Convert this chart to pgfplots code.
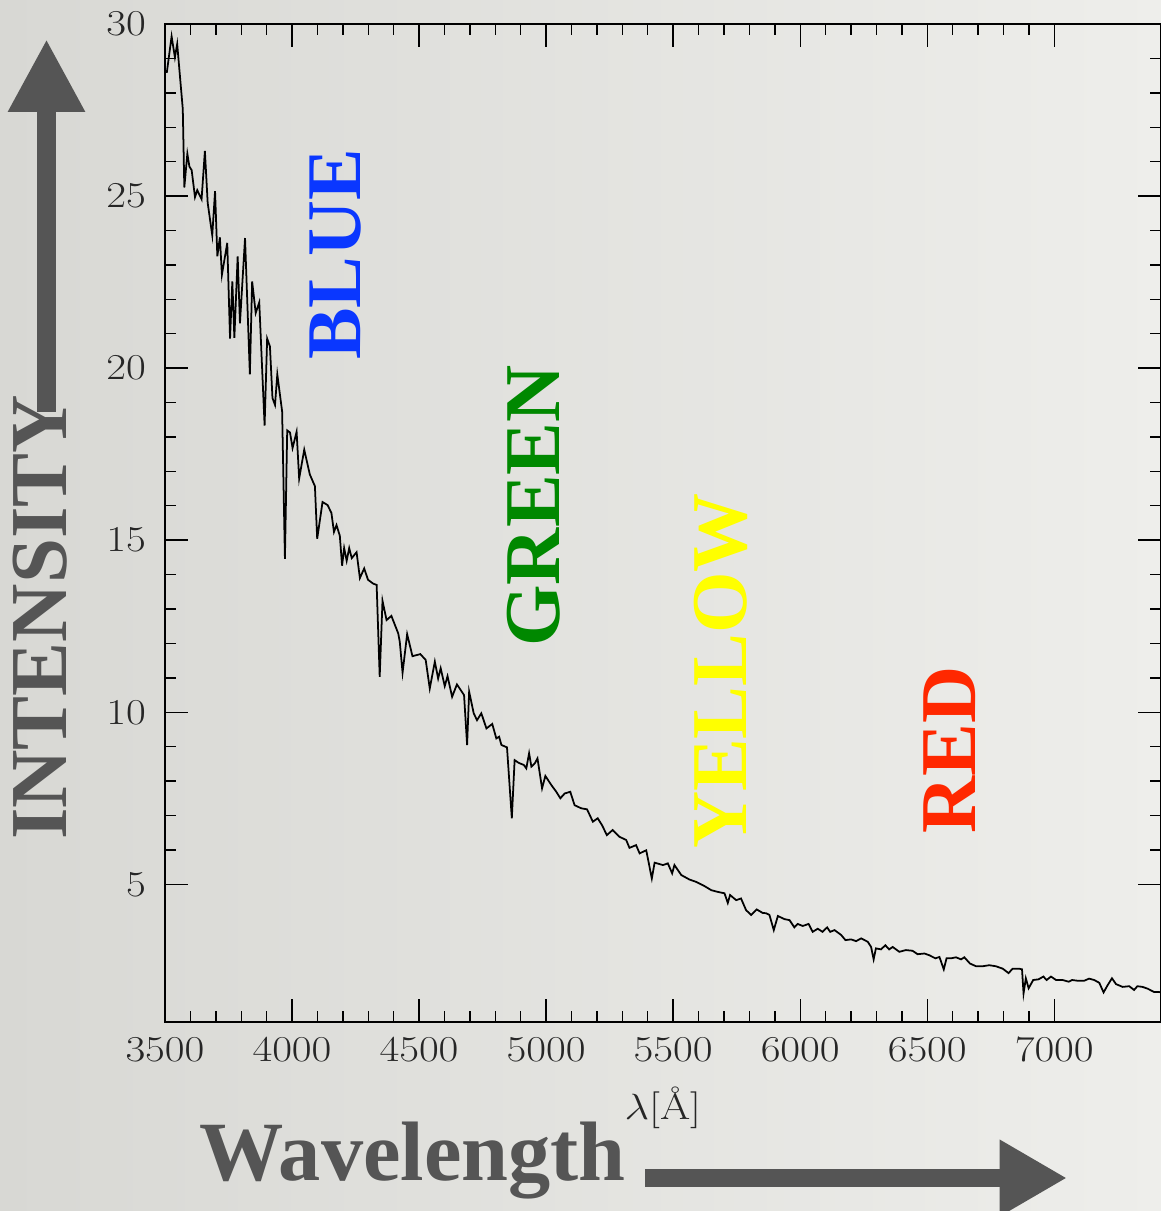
\documentclass[border=0pt]{standalone}
\usepackage{pgfplots}
\pgfplotsset{compat=1.18}
\usepackage{fontspec}
\newfontfamily\labelfont{Liberation Serif}
\usetikzlibrary{arrows.meta}
\definecolor{bgL}{RGB}{216,216,212}
\definecolor{bgR}{RGB}{238,238,235}
\definecolor{arrowgray}{RGB}{85,85,85}
\definecolor{cblue}{RGB}{10,55,255}
\definecolor{cgreen}{RGB}{0,136,0}
\definecolor{cyellow}{RGB}{255,255,0}
\definecolor{cred}{RGB}{255,40,0}
\begin{document}
\begin{tikzpicture}
\useasboundingbox (-3.30,-3.78) rectangle (19.91,20.44);
\shade[left color=bgL, right color=bgR] (-3.30,-3.78) rectangle (19.95,20.44);
\begin{axis}[
  at={(0,0)}, anchor=south west, scale only axis,
  width=19.92cm, height=19.96cm,
  xmin=3500, xmax=7420, ymin=1, ymax=30,
  xtick={3500,4000,...,7000}, ytick={5,10,...,30},
  minor x tick num=4, minor y tick num=4,
  major tick length=0.46cm, minor tick length=0.22cm,
  axis line style={line width=1.1pt},
  every tick/.style={black, line width=0.8pt},
  tick label style={font=\fontsize{21}{25}\selectfont, xscale=1.18, text=black!85},
  yticklabel style={xshift=-0.2cm},
  xticklabel style={yshift=-0.2cm},
  scaled x ticks=false,
  /pgf/number format/1000 sep={},
]
\addplot[black, line width=1pt] table {
x y
3507 28.58
3526 29.64
3539 29.03
3548 29.42
3559 28.47
3570 27.53
3576 25.25
3588 26.23
3596 25.86
3605 25.75
3618 24.97
3627 25.17
3644 24.91
3657 26.31
3668 24.80
3686 23.86
3697 25.14
3706 23.25
3716 23.80
3724 22.71
3745 23.64
3756 20.86
3765 22.52
3773 20.88
3786 23.25
3795 21.30
3815 23.78
3834 19.82
3843 22.52
3857 21.60
3871 21.91
3892 18.33
3902 20.86
3913 20.63
3923 19.13
3933 18.93
3942 19.82
3961 18.74
3972 14.46
3981 18.19
3992 18.13
4002 17.68
4018 18.15
4028 16.79
4048 17.63
4070 16.91
4090 16.57
4099 15.04
4120 16.11
4140 16.02
4155 15.79
4165 15.24
4175 15.44
4188 15.13
4197 14.26
4205 14.77
4215 14.40
4225 14.77
4235 14.48
4254 14.65
4267 13.90
4284 14.18
4299 13.85
4319 13.74
4333 13.70
4345 11.03
4356 13.24
4372 12.68
4391 12.80
4418 12.29
4424 12.05
4435 11.15
4453 12.27
4474 11.63
4505 11.69
4526 11.52
4542 10.69
4562 11.47
4575 10.98
4585 11.28
4601 10.76
4612 11.05
4630 10.45
4649 10.81
4677 10.50
4689 9.05
4697 10.60
4715 9.97
4728 9.77
4745 9.97
4765 9.53
4788 9.66
4804 9.24
4815 9.29
4824 9.05
4846 8.98
4865 6.92
4876 8.61
4892 8.53
4912 8.47
4922 8.37
4933 8.81
4942 8.42
4955 8.51
4966 8.66
4984 7.79
4997 8.15
5021 7.88
5040 7.69
5056 7.50
5073 7.64
5095 7.69
5112 7.30
5138 7.21
5161 7.18
5184 6.82
5203 6.92
5220 6.72
5239 6.43
5262 6.58
5289 6.38
5315 6.29
5328 6.06
5354 6.14
5368 5.90
5394 5.99
5416 5.17
5427 5.63
5460 5.56
5479 5.61
5496 5.32
5505 5.56
5532 5.27
5564 5.14
5591 5.07
5623 4.95
5650 4.83
5676 4.78
5702 4.74
5715 4.46
5724 4.69
5748 4.54
5767 4.59
5787 4.25
5807 4.11
5829 4.27
5852 4.17
5866 4.16
5879 4.11
5896 3.67
5912 4.08
5938 3.99
5958 3.96
5977 3.75
5990 3.85
6010 3.79
6033 3.85
6049 3.62
6069 3.71
6088 3.62
6106 3.75
6118 3.62
6135 3.67
6161 3.53
6178 3.38
6200 3.40
6220 3.35
6240 3.43
6266 3.33
6279 3.18
6289 2.82
6298 3.14
6318 3.11
6335 3.23
6350 3.11
6364 3.18
6390 3.04
6416 3.09
6442 3.07
6462 2.97
6489 2.99
6508 2.94
6532 2.85
6548 2.89
6565 2.53
6576 2.85
6593 2.85
6613 2.88
6633 2.82
6646 2.88
6668 2.70
6692 2.62
6718 2.62
6744 2.65
6770 2.62
6797 2.55
6820 2.42
6836 2.55
6862 2.55
6873 2.53
6879 1.83
6888 2.27
6899 1.98
6917 2.22
6938 2.24
6957 2.32
6970 2.22
6987 2.32
7007 2.22
7033 2.22
7057 2.17
7070 2.22
7091 2.20
7118 2.20
7137 2.26
7157 2.22
7177 2.14
7194 1.86
7210 2.07
7227 2.27
7243 2.10
7269 2.02
7295 2.04
7314 1.93
7327 2.04
7347 2.02
7367 1.97
7393 1.87
7413 1.87
7430 1.85
};
\end{axis}
\node[font=\fontsize{21}{25}\selectfont, xscale=1.18, text=black!85] at (9.96,-1.72) {$\lambda$[\AA]};
\node[rotate=90, text=cblue, font=\labelfont\bfseries\fontsize{44}{50}\selectfont] at (3.42,15.35) {BLUE};
\node[rotate=90, text=cgreen, font=\labelfont\bfseries\fontsize{45}{50}\selectfont] at (7.38,10.32) {GREEN};
\node[rotate=90, text=cyellow, font=\labelfont\bfseries\fontsize{45}{50}\selectfont] at (11.11,7.02) {YELLOW};
\node[rotate=90, text=cred, font=\labelfont\bfseries\fontsize{45}{50}\selectfont] at (15.7,5.44) {RED};
\node[rotate=90, text=arrowgray, font=\labelfont\bfseries\fontsize{46}{50}\selectfont] at (-2.49,8.09) {INTENSITY};
\node[anchor=base, text=arrowgray, font=\labelfont\bfseries\fontsize{48}{52}\selectfont] at (4.95,-3.16) {Wavelength};
\draw[arrowgray, line width=0.38cm, -{Triangle[length=1.46cm,width=1.44cm]}] (-2.37,12.2) -- (-2.37,19.66);
\draw[arrowgray, line width=0.36cm, -{Triangle[length=1.35cm,width=1.44cm]}] (9.6,-3.12) -- (18.04,-3.12);
\end{tikzpicture}
\end{document}
